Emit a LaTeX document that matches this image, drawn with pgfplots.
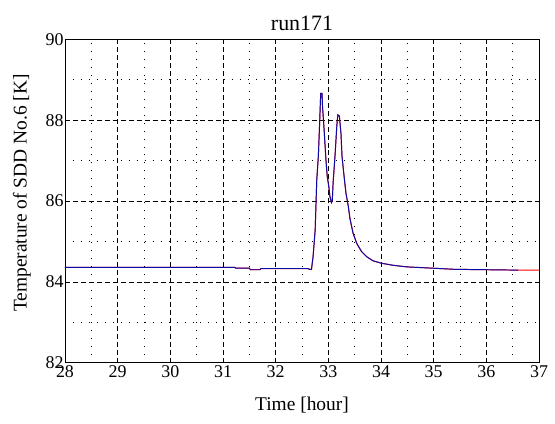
\documentclass[border=0pt]{standalone}
\usepackage{pgfplots}
\pgfplotsset{compat=1.18}
\usepackage{fontspec}
\setmainfont{Liberation Serif}
\definecolor{navy}{RGB}{10,10,170}
\begin{document}
\begin{tikzpicture}
\useasboundingbox (-65bp,-61.3bp) rectangle (490bp,362.7bp);
\begin{axis}[
  at={(0,0)}, anchor=south west,
  scale only axis, width=474bp, height=323.4bp,
  xmin=28, xmax=37, ymin=82, ymax=90,
  xtick={28,...,37}, ytick={82,84,...,90},
  minor x tick num=1, minor y tick num=1,
  grid=both,
  major grid style={black, line width=0.5pt, dash pattern=on 5pt off 3pt},
  minor grid style={black, line width=0.6pt, dash pattern=on 1pt off 7pt},
  tick style={draw=none},
  axis line style={black, line width=0.8pt},
  /pgf/number format/assume math mode=true,
  ticklabel style={font=\fontsize{18}{18}\selectfont},
  xticklabel style={yshift=1pt},
  yticklabel style={xshift=2pt},
  title={run171},
  title style={font=\fontsize{22}{22}\selectfont, yshift=-1pt},
  xlabel={Time [hour]},
  ylabel={Temperature of SDD No.6 [K]},
  label style={font=\fontsize{19.5}{19.5}\selectfont},
  xlabel style={yshift=-13pt},
  ylabel style={yshift=8pt, xshift=8pt},
]
\addplot[red, line width=1.0pt] coordinates {
(28,84.36) (31.22,84.36) (31.24,84.34) (31.50,84.34) (31.52,84.30) (31.70,84.30)
(31.72,84.33) (32.60,84.33) (32.65,84.31) (32.68,84.31) (32.71,84.62) (32.75,85.28)
(32.78,86.52) (32.81,87.10) (32.83,87.76) (32.855,88.66) (32.88,88.66) (32.89,88.33)
(32.92,87.76) (32.955,87.01) (32.98,86.60) (33.01,86.35) (33.03,86.11) (33.06,85.96)
(33.075,86.00) (33.09,86.44) (33.13,87.18) (33.16,87.84) (33.18,88.13) (33.21,88.10)
(33.24,87.67) (33.26,87.10) (33.30,86.60) (33.335,86.19) (33.38,85.86) (33.41,85.57)
(33.47,85.20) (33.54,84.95) (33.63,84.75) (33.73,84.62) (33.85,84.52) (34.01,84.46)
(34.23,84.41) (34.49,84.37) (34.80,84.35) (35.40,84.31) (36.00,84.30) (36.61,84.29)
(37,84.29)
};
\addplot[navy, line width=0.95pt] coordinates {
(28,84.36) (31.22,84.36) (31.24,84.34) (31.50,84.34) (31.52,84.30) (31.70,84.30)
(31.72,84.33) (32.60,84.33) (32.65,84.31) (32.68,84.31) (32.71,84.62) (32.75,85.28)
(32.78,86.52) (32.81,87.10) (32.83,87.76) (32.855,88.66) (32.88,88.66) (32.89,88.33)
(32.92,87.76) (32.955,87.01) (32.98,86.60) (33.01,86.35) (33.03,86.11) (33.06,85.96)
(33.075,86.00) (33.09,86.44) (33.13,87.18) (33.16,87.84) (33.18,88.13) (33.21,88.10)
(33.24,87.67) (33.26,87.10) (33.30,86.60) (33.335,86.19) (33.38,85.86) (33.41,85.57)
(33.47,85.20) (33.54,84.95) (33.63,84.75) (33.73,84.62) (33.85,84.52) (34.01,84.46)
(34.23,84.41) (34.49,84.37) (34.80,84.35) (35.40,84.31) (36.00,84.30) (36.61,84.29)
};
\end{axis}
\end{tikzpicture}
\end{document}
